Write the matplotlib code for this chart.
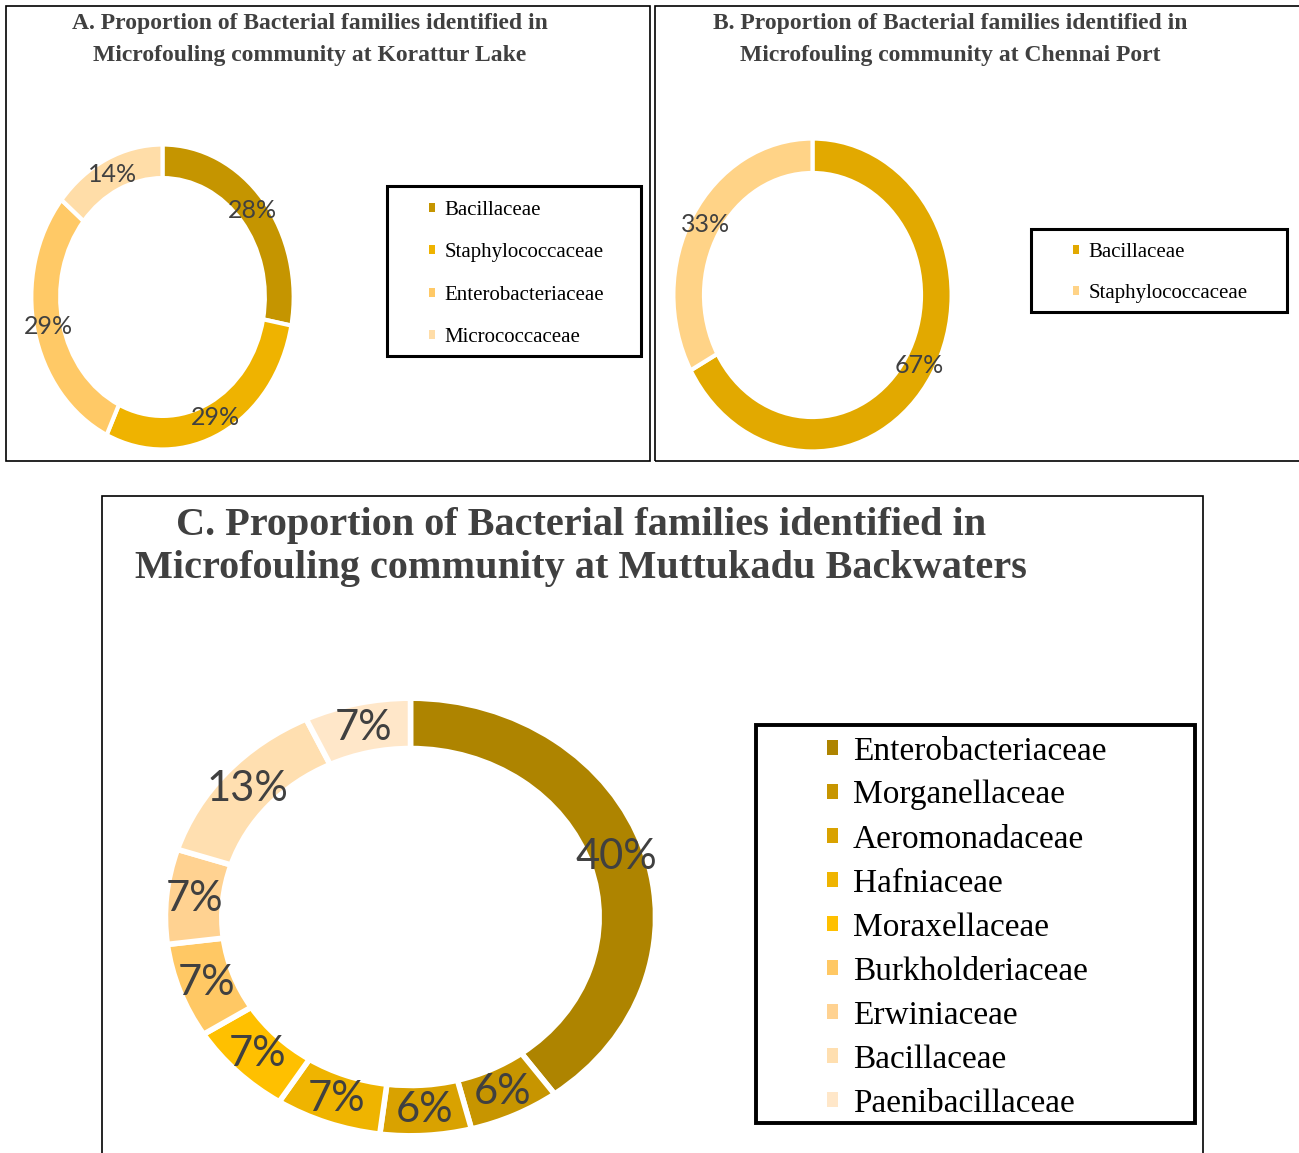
import matplotlib
matplotlib.use("Agg")
import matplotlib.pyplot as plt
from matplotlib.patches import Rectangle, Patch

W, H = 1299, 1153

# panel A - Korattur Lake
a_labels = ["Bacillaceae", "Staphylococcaceae", "Enterobacteriaceae", "Micrococcaceae"]
a_values = [28, 29, 29, 14]
a_colors = ["#C59500", "#EFB300", "#FFC966", "#FFDDA8"]

# panel B - Chennai Port
b_labels = ["Bacillaceae", "Staphylococcaceae"]
b_values = [67, 33]
b_colors = ["#E2A900", "#FFD387"]

# panel C - Muttukadu Backwaters
c_labels = ["Enterobacteriaceae", "Morganellaceae", "Aeromonadaceae", "Hafniaceae",
            "Moraxellaceae", "Burkholderiaceae", "Erwiniaceae", "Bacillaceae",
            "Paenibacillaceae"]
c_values = [40, 6, 6, 7, 7, 7, 7, 13, 7]
c_colors = ["#AE8400", "#C79500", "#D9A200", "#EFB400", "#FFC000",
            "#FFC864", "#FFD291", "#FFDFB0", "#FFE7C9"]

TXT = "#404040"
SERIF = "Liberation Serif"
SANS = "Lato"


def px_rect(x0, y0, x1, y1):
    """pixel box (top-left origin) -> figure rect"""
    return [x0 / W, 1 - y1 / H, (x1 - x0) / W, (y1 - y0) / H]


def fx(x):
    return x / W


def fy(y):
    return 1 - y / H


fig = plt.figure(figsize=(W / 100, H / 100), dpi=100)


def box(x0, y0, x1, y1, lw):
    fig.add_artist(Rectangle((fx(x0), fy(y1)), fx(x1 - x0), (y1 - y0) / H,
                             transform=fig.transFigure, fill=False,
                             edgecolor="black", linewidth=lw))


# panel frames
box(6, 6, 650, 461, 1.2)
box(655, 6, 1305, 461, 1.2)
box(102, 496, 1203, 1170, 1.2)


def donut(rect, values, colors, ring, gap, pct_size):
    ax = fig.add_axes(px_rect(*rect))
    wedges, texts, autotexts = ax.pie(
        values, colors=colors, startangle=90, counterclock=False,
        wedgeprops=dict(width=ring, edgecolor="white", linewidth=gap),
        autopct="%.0f%%", pctdistance=1 - ring / 2,
        textprops=dict(color=TXT, fontsize=pct_size, family=SANS))
    ax.set_aspect("auto")
    ax.set_xlim(-1.01, 1.01)
    ax.set_ylim(-1.01, 1.01)
    ax.axis("off")
    return ax


def legend(ax, labels, colors, x, y, size, spacing, hl):
    handles = [Patch(facecolor=c, edgecolor="none") for c in colors]
    ax.legend(handles, labels, loc="upper left", bbox_to_anchor=(fx(x), fy(y)),
              bbox_transform=fig.transFigure, frameon=False, borderpad=0,
              borderaxespad=0, handlelength=hl, handleheight=hl,
              handletextpad=0.45, labelspacing=spacing,
              prop=dict(family=SERIF, size=size), labelcolor="black")


def title(x, y1, y2, line1, line2, size):
    fig.text(fx(x), fy(y1), line1, ha="center", va="center", family=SERIF,
             weight="bold", size=size, color=TXT)
    fig.text(fx(x), fy(y2), line2, ha="center", va="center", family=SERIF,
             weight="bold", size=size, color=TXT)


# A
ax_a = donut((30, 143, 295, 451), a_values, a_colors, 0.22, 3, 18)
title(310, 23, 55, "A. Proportion of Bacterial families identified in",
      "Microfouling community at Korattur Lake", 17)
box(387, 186, 641, 356, 2.2)
legend(ax_a, a_labels, a_colors, 429, 201, 15, 1.12, 0.3)

# B
ax_b = donut((672, 137, 953, 453), b_values, b_colors, 0.22, 3, 18)
title(950, 23, 55, "B. Proportion of Bacterial families identified in",
      "Microfouling community at Chennai Port", 17)
box(1031, 229, 1287, 312, 2.2)
legend(ax_b, b_labels, b_colors, 1073, 243, 15, 1.04, 0.3)

# C
ax_c = donut((163, 696, 658, 1138), c_values, c_colors, 0.23, 4, 30)
title(581, 526, 569, "C. Proportion of Bacterial families identified in",
      "Microfouling community at Muttukadu Backwaters", 29)
box(756, 725, 1195, 1123, 2.8)
legend(ax_c, c_labels, c_colors, 827, 736, 24, 0.405, 0.33)

fig.savefig("out.png", dpi=100)
